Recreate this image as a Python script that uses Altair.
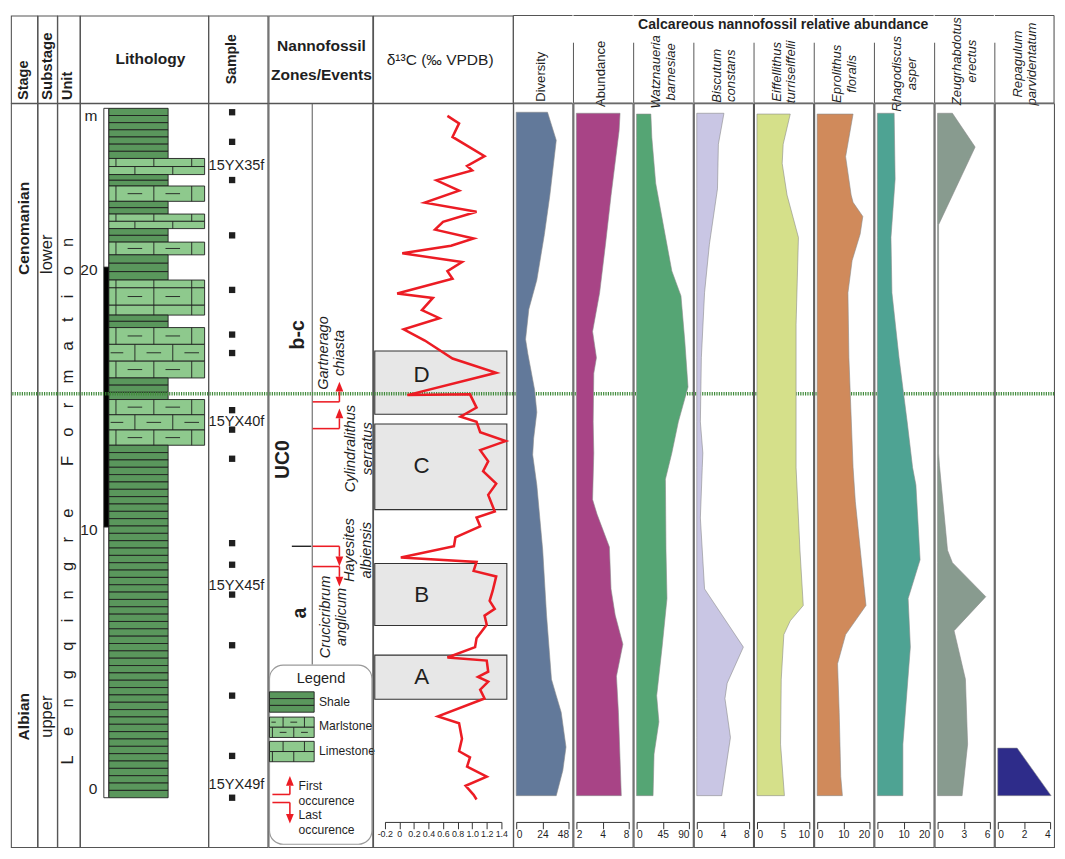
import altair as alt
import numpy as np
import pandas as pd

# =============================== DATA ===============================
stage_names = ["Cenomanian", "Albian"]
stage_label_depth = [21.6, 2.8]
substage_names = ["lower", "upper"]
substage_label_depth = [20.6, 2.8]
unit_name = "Lengqingre Formation"
unit_label_depth = 11.1
boundary_depth = [15.23]

lith_top = [26.22, 24.29, 23.67, 23.23, 22.64, 22.15, 21.59, 21.07, 20.58, 19.61, 19.31,
            18.64, 18.26, 17.78, 15.84, 15.01, 13.25]
lith_base = [24.29, 23.67, 23.23, 22.64, 22.15, 21.59, 21.07, 20.58, 19.61, 19.31, 18.64,
             18.26, 17.78, 15.84, 15.01, 13.25, -0.32]
lith_type = ["Shale", "Limestone", "Shale", "Marlstone", "Shale", "Limestone", "Shale",
             "Marlstone", "Shale", "Limestone", "Marlstone", "Limestone", "Shale",
             "Marlstone", "Shale", "Marlstone", "Shale"]

depth_ticks = [0, 10, 20]
depth_unit = "m"
depth_unit_depth = 25.93
scale_bar_top = [26.22, 20.1, 10.1]
scale_bar_base = [20.1, 10.1, -0.32]

sample_depth = [26.07, 24.93, 23.46, 21.33, 19.23, 17.51, 16.80, 14.60, 13.85, 12.73,
                9.48, 8.65, 7.50, 5.55, 3.61, 1.29, -0.32]
sample_labels = ["15YX35f", "15YX40f", "15YX45f", "15YX49f"]
sample_label_depth = [23.98, 14.14, 7.84, 0.18]

zone_labels = ["b-c", "UC0", "a"]
zone_label_depth = [17.5, 12.7, 6.79]
zone_tick_depth = [9.36]

event_names = ["Gartnerago chiasta", "Cylindralithus serratus", "Hayesites albiensis",
               "Crucicribrum anglicum"]
event_kind = ["FO", "FO", "LO", "LO"]
event_depth = [14.92, 13.89, 9.36, 8.58]
event_label_depth = [16.8, 13.12, 9.21, 6.64]

d13c_depth = [25.93, 25.64, 25.12, 24.38, 24.00, 23.83, 23.45, 23.05, 22.59, 22.24,
              21.85, 21.55, 21.21, 20.93, 20.64, 20.30, 19.95, 19.66, 19.09, 18.92,
              18.45, 18.14, 17.71, 17.28, 16.59, 16.04, 15.18, 15.21, 14.70, 14.35,
              14.15, 13.75, 13.41, 13.06, 12.63, 12.25, 11.77, 11.34, 10.70, 10.47,
              10.13, 9.70, 9.36, 8.93, 8.76, 8.41, 8.20, 7.63, 7.26, 6.95,
              6.69, 6.34, 5.82, 5.48, 5.08, 4.96, 4.53, 4.33, 4.15, 3.84,
              3.50, 2.81, 2.55, 1.95, 1.47, 1.23, 0.88, 0.49, 0.14, -0.21, -0.39]
d13c_value = [0.66, 0.82, 0.73, 1.17, 0.93, 1.00, 0.51, 0.82, 0.35, 1.06,
              0.60, 0.49, 1.02, 0.71, 0.04, 0.86, 0.66, 0.73, -0.03, 0.46,
              0.31, 0.55, 0.06, 0.35, 0.73, 1.33, 0.11, 0.97, 1.06, 0.84,
              1.06, 1.11, 1.46, 1.11, 1.22, 1.15, 1.33, 1.22, 1.31, 1.06,
              1.11, 0.77, 0.75, 0.02, 1.06, 1.02, 1.33, 1.28, 1.24, 1.31,
              1.17, 1.20, 1.06, 1.04, 0.66, 1.20, 1.22, 1.08, 1.22, 1.11,
              1.17, 0.53, 0.82, 0.86, 0.82, 0.97, 0.93, 1.20, 0.91, 1.02, 1.06]
d13c_ticks = [-0.2, 0, 0.2, 0.4, 0.6, 0.8, 1.0, 1.2, 1.4]

box_names = ["A", "B", "C", "D"]
box_top = [5.17, 8.70, 14.07, 16.88]
box_base = [3.47, 6.31, 10.77, 14.44]
box_label_depth = [4.33, 7.50, 12.43, 15.95]

abund_title = "Calcareous nannofossil relative abundance"
species_titles = ["Diversity", "Abundance", "Watznaueria barnesiae", "Biscutum constans",
                  "Eiffellithus turriseiffelii", "Eprolithus floralis", "Rhagodiscus asper",
                  "Zeugrhabdotus erectus", "Repagulum parvidentatum"]
species_domain = [[0, 48], [2, 8], [0, 90], [0, 8], [0, 10], [0, 20], [0, 20], [0, 6], [0, 4]]
species_ticks = [[0, 24, 48], [2, 4, 8], [0, 45, 90], [0, 4, 8], [0, 5, 10], [0, 10, 20],
                 [0, 10, 20], [0, 3, 6], [0, 2, 4]]

div_depth = [26.07, 24.99, 22.86, 21.36, 19.61, 18.49, 17.33, 16.77, 15.38, 14.52, 13.51,
             12.88, 11.72, 9.21, 6.71, 4.24, 3.61, 2.97, 1.63, 0.73, -0.24]
div_value = [28.7, 36.7, 30.8, 25.8, 18.9, 11.6, 8.6, 10.7, 16.9, 18.9, 16.0,
             15.1, 18.9, 24.3, 27.8, 32.3, 36.7, 41.2, 45.6, 42.7, 36.7]
abund_depth = [26.03, 25.36, 22.86, 20.99, 19.12, 17.63, 16.62, 16.02, 14.15, 12.95,
               11.16, 10.60, 9.33, 7.72, 6.71, 5.59, 4.36, 2.97, -0.24]
abund_value = [6.35, 6.19, 5.00, 4.32, 3.70, 3.07, 3.40, 3.17, 3.12, 3.17,
               3.07, 3.45, 4.79, 5.00, 5.58, 6.84, 5.77, 6.08, 6.56]
watz_depth = [26.0, 25.1, 23.34, 21.63, 19.96, 19.0, 17.25, 15.49, 14.15, 12.95, 11.94,
              9.21, 7.35, 5.48, 3.61, 2.6, 1.36, -0.24]
watz_value = [24.5, 26.2, 32.8, 46.7, 60.5, 76.2, 82.8, 88.3, 71.7, 60.5, 49.5,
              50.5, 52.2, 43.8, 34.5, 38.3, 30.0, 28.3]
bisc_depth = [26.03, 24.84, 23.12, 20.99, 19.12, 16.62, 14.15, 12.95, 12.39, 10.45, 7.72,
              5.48, 4.09, 3.50, 2.0, -0.24]
bisc_value = [4.15, 3.30, 3.16, 1.93, 1.19, 0.70, 0.55, 0.93, 0.84, 0.55, 1.19,
              7.11, 4.64, 4.30, 5.14, 3.81]
eiff_depth = [26.0, 24.84, 24.1, 22.88, 21.25, 17.89, 12.39, 9.21, 7.08, 6.49, 5.96,
              4.24, 1.74, -0.24]
eiff_value = [6.35, 5.0, 4.81, 5.74, 7.91, 7.46, 7.46, 8.2, 8.83, 6.35, 5.13,
              4.63, 4.5, 5.24]
epro_depth = [26.0, 24.36, 22.88, 22.6, 22.06, 21.38, 20.36, 19.12, 16.62, 12.39, 11.08,
              7.08, 5.96, 4.84, 2.97, 0.5, -0.24]
epro_value = [13.7, 10.85, 12.96, 13.7, 17.41, 16.41, 13.33, 11.74, 12.11, 13.7, 14.56,
              18.63, 10.85, 7.78, 8.41, 9.0, 9.63]
rhag_depth = [26.03, 23.49, 21.25, 19.12, 16.62, 14.15, 12.39, 11.72, 8.84, 7.35, 5.48,
              1.74, -0.24]
rhag_value = [6.41, 6.78, 5.19, 5.56, 8.26, 11.37, 13.44, 14.7, 16.3, 11.74, 12.59,
              9.74, 9.74]
zeug_depth = [26.03, 24.73, 21.74, 12.95, 12.47, 9.21, 8.73, 7.42, 6.11, 4.24, 1.74, -0.24]
zeug_value = [1.70, 4.30, 0.12, 0.12, 0.22, 1.14, 1.70, 5.52, 1.89, 3.19, 3.44, 2.81]
repa_depth = [1.59, -0.24]
repa_value = [1.48, 4.07]

species_depth = [div_depth, abund_depth, watz_depth, bisc_depth, eiff_depth, epro_depth,
                 rhag_depth, zeug_depth, repa_depth]
species_value = [div_value, abund_value, watz_value, bisc_value, eiff_value, epro_value,
                 rhag_value, zeug_value, repa_value]

legend_items = ["Shale", "Marlstone", "Limestone"]
legend_arrow_text = ["First\noccurence", "Last\noccurence"]

# =============================== STYLE / LAYOUT ===============================
S = 0.984                      # overall scale so the figure fits the window


def px(v):
    return round(v * S, 2)


FONT = "Liberation Sans, Arial, Helvetica, sans-serif"
INK = "#1f1f1f"
BORDER = "#555555"
RED = "#ec1c24"
GREEN = "#3f8a3a"
BOX_FILL = "#e7e7e7"
LITH_FILL = {"Shale": "#5a975c", "Marlstone": "#8ec98d", "Limestone": "#8ec98d"}
SPECIES_COLOR = ["#62799a", "#a84486", "#55a574", "#c9c6e4", "#d5e08a", "#d08a5b",
                 "#4ea393", "#889b8f", "#2e2c8a"]
HEADER_Y = [63, 60, 58, 62, 58, 60, 60, 47, 50]
EVENT_LABEL_X = [57, 85, 84, 59]

PX_PER_M = 26.75
ZERO_Y = 796.5
HEAD_H = 90
BODY_BOTTOM = 856
LEGEND_TOP = 668
AXIS_Y = 830
Y_TOP = (ZERO_Y - HEAD_H) / PX_PER_M
Y_BOT = (ZERO_Y - BODY_BOTTOM) / PX_PER_M
H_BODY = BODY_BOTTOM - HEAD_H
H_NANNO = LEGEND_TOP - HEAD_H
H_LEGEND = BODY_BOTTOM - LEGEND_TOP
W = dict(stage=27, substage=20, unit=23, lith=132, sample=61, nanno=107, d13c=144, sp=61)

LITH_X0 = 29.5
LITH_RIGHT = {"Shale": 90.7, "Marlstone": 128.3, "Limestone": 128.3}
ROW_H = {"Shale": 0.285, "Marlstone": 0.62, "Limestone": 0.31}

ARROW_LINE_M = 10.6 / PX_PER_M
HEAD_PX = 10
UP = "M-0.8,1L0,-1L0.8,1Z"
DOWN = "M-0.8,-1L0,1L0.8,-1Z"

YD = alt.Scale(domain=[Y_BOT, Y_TOP], nice=False, zero=False)
NOSTROKE = alt.ViewBackground(stroke="transparent")


def depth_y(field="depth", scale=None):
    return alt.Y(f"{field}:Q", scale=scale if scale is not None else YD, axis=None)


def px_scale(n):
    return alt.Scale(domain=[0, n], range=[0, px(n)], nice=False, zero=False)


def boundary_rule():
    return alt.Chart(pd.DataFrame({"depth": boundary_depth})).mark_rule(
        color=GREEN, strokeWidth=px(3.6), strokeDash=[1.2, 1.2]
    ).encode(y=depth_y("depth"))


def litho_pattern(beds, x0, x_right, brick, offsets, dash):
    rows, joints, dashes = [], [], []
    for top, base, kind, n in beds:
        step = (base - top) / n
        xr = x_right[kind]
        for i in range(n):
            t = top + i * step
            b = t + step
            rows.append({"kind": kind, "x": x0, "x2": xr, "top": t, "base": b})
            if kind == "Shale":
                continue
            off = offsets[i % 2]
            k0 = int(np.floor((x0 - off) / brick)) - 1
            for k in range(k0, k0 + 12):
                j = off + k * brick
                if x0 + 1 < j < xr - 1:
                    joints.append({"x": j, "top": t, "base": b})
                if kind == "Marlstone":
                    c = j + brick / 2
                    a, z = max(c - dash / 2, x0 + 2), min(c + dash / 2, xr - 2)
                    if z - a > 1.5:
                        dashes.append({"x": a, "x2": z, "mid": (t + b) / 2})
    return pd.DataFrame(rows), pd.DataFrame(joints), pd.DataFrame(dashes)


def pattern_layers(beds, x0, x_right, brick, offsets, dash, xs, yfun):
    rows, joints, dashes = litho_pattern(beds, x0, x_right, brick, offsets, dash)
    fill = alt.Fill("kind:N", scale=alt.Scale(domain=list(LITH_FILL), range=list(LITH_FILL.values())),
                    legend=None)
    r = alt.Chart(rows).mark_rect(stroke=INK, strokeWidth=0.9).encode(
        x=alt.X("x:Q", scale=xs, axis=None), x2="x2:Q", y=yfun("top"), y2="base:Q", fill=fill)
    j = alt.Chart(joints).mark_rule(color=INK, strokeWidth=0.9).encode(
        x=alt.X("x:Q", scale=xs, axis=None), y=yfun("top"), y2="base:Q")
    d = alt.Chart(dashes).mark_rule(color=INK, strokeWidth=0.9).encode(
        x=alt.X("x:Q", scale=xs, axis=None), x2="x2:Q", y=yfun("mid"))
    return [r, j, d]


def rotated_labels(names, depths, x, size, weight="normal", style="normal"):
    df = pd.DataFrame({"name": names, "depth": depths})
    return alt.Chart(df).mark_text(
        angle=270, align="center", baseline="middle", font=FONT, fontSize=px(size),
        fontWeight=weight, fontStyle=style, color=INK
    ).encode(x=alt.value(px(x)), y=depth_y(), text="name:N")


def spaced(s):
    gap = "\u2003\u2006"
    return "\u2003\u2003\u2004\u2005".join(gap.join(w) for w in s.split())


# =============================== BODY ===============================
stage_b = alt.layer(
    boundary_rule(), rotated_labels(stage_names, stage_label_depth, 13.5, 16, "bold")
).properties(width=px(W["stage"]), height=px(H_BODY))

substage_b = alt.layer(
    boundary_rule(), rotated_labels(substage_names, substage_label_depth, 10, 17)
).properties(width=px(W["substage"]), height=px(H_BODY))

unit_b = alt.layer(
    boundary_rule(), rotated_labels([spaced(unit_name)], [unit_label_depth], 11.5, 17)
).properties(width=px(W["unit"]), height=px(H_BODY))

# --- lithology
XL = px_scale(W["lith"])
beds = [(t, b, k, max(1, int(round((t - b) / ROW_H[k])))) for t, b, k in
        zip(lith_top, lith_base, lith_type)]
lith_layers = pattern_layers(beds, LITH_X0, LITH_RIGHT, 39, [37, 56.5], 15, XL,
                             lambda f: depth_y(f))
bar_df = pd.DataFrame({"top": scale_bar_top, "base": scale_bar_base,
                       "fill": ["white", "black", "white"]})
bar = alt.Chart(bar_df).mark_rect(stroke=INK, strokeWidth=0.9).encode(
    x=alt.value(px(24.5)), x2=alt.value(px(29.5)), y=depth_y("top"), y2="base:Q",
    fill=alt.Fill("fill:N", scale=None))
tick_df = pd.DataFrame({"label": [str(t) for t in depth_ticks] + [depth_unit],
                        "depth": depth_ticks + [depth_unit_depth]})
tick_text = alt.Chart(tick_df).mark_text(
    align="right", baseline="middle", font=FONT, fontSize=px(16), color=INK
).encode(x=alt.value(px(18)), y=depth_y(), text="label:N")
lith_b = alt.layer(*lith_layers, bar, tick_text, boundary_rule()).properties(
    width=px(W["lith"]), height=px(H_BODY))

# --- samples
samp = alt.Chart(pd.DataFrame({"depth": sample_depth})).mark_square(
    color=INK, size=px(6.5) ** 2, opacity=1).encode(x=alt.value(px(24.5)), y=depth_y())
samp_lab = alt.Chart(pd.DataFrame({"label": sample_labels, "depth": sample_label_depth})).mark_text(
    font=FONT, fontSize=px(15), align="center", baseline="middle", color=INK
).encode(x=alt.value(px(29)), y=depth_y(), text="label:N")
sample_b = alt.layer(boundary_rule(), samp, samp_lab).properties(
    width=px(W["sample"]), height=px(H_BODY))

# --- nannofossil zones / events + legend (one panel, two vertical scales)
XN = px_scale(W["nanno"])
sep = alt.Chart(pd.DataFrame({"x": [45]})).mark_rule(color=BORDER, strokeWidth=1).encode(
    x=alt.X("x:Q", scale=XN, axis=None), y=alt.value(0), y2=alt.value(px(H_NANNO)))
zdf = pd.DataFrame({"name": zone_labels, "depth": zone_label_depth, "x": [30, 15, 32]})
zones = alt.Chart(zdf).mark_text(
    angle=270, align="center", baseline="middle", font=FONT, fontSize=px(20),
    fontWeight="bold", color=INK
).encode(x=alt.X("x:Q", scale=XN, axis=None), y=depth_y(), text="name:N")
ztick = alt.Chart(pd.DataFrame({"depth": zone_tick_depth})).mark_rule(
    color=INK, strokeWidth=1.4).encode(x=alt.value(px(24)), x2=alt.value(px(44)), y=depth_y())
sign = np.array([1 if k == "FO" else -1 for k in event_kind])
ev = pd.DataFrame({"name": [n.replace(" ", "\n") for n in event_names], "kind": event_kind,
                   "depth": event_depth, "ldepth": event_label_depth, "lx": EVENT_LABEL_X})
ev["end"] = ev["depth"] + sign * ARROW_LINE_M
ev["head"] = ev["depth"] + sign * (ARROW_LINE_M + HEAD_PX / 2 / PX_PER_M)
ev_h = alt.Chart(ev).mark_rule(color=RED, strokeWidth=px(1.6)).encode(
    x=alt.value(px(45.5)), x2=alt.value(px(73)), y=depth_y("depth"))
ev_v = alt.Chart(ev).mark_rule(color=RED, strokeWidth=px(1.6)).encode(
    x=alt.value(px(73)), y=depth_y("depth"), y2="end:Q")
shape = alt.Shape("kind:N", scale=alt.Scale(domain=["FO", "LO"], range=[UP, DOWN]), legend=None)
ev_head = alt.Chart(ev).mark_point(filled=True, color=RED, opacity=1, strokeWidth=0,
                                    size=px(HEAD_PX) ** 2).encode(
    x=alt.value(px(73)), y=depth_y("head"), shape=shape)
ev_lab = alt.Chart(ev).mark_text(
    angle=270, align="center", baseline="middle", font=FONT, fontSize=px(15),
    fontStyle="italic", lineBreak="\n", lineHeight=px(17), color=INK
).encode(x=alt.X("lx:Q", scale=XN, axis=None), y=depth_y("ldepth"), text="name:N")

YL = alt.Scale(domain=[0, H_LEGEND], range=[px(H_NANNO), px(H_BODY)], nice=False, zero=False)


def ly(f):
    return alt.Y(f"{f}:Q", scale=YL, axis=None)


one = pd.DataFrame({"k": [0]})
leg_box = alt.Chart(one).mark_rect(fill="white", stroke="#9a9a9a", strokeWidth=1.2,
                                   cornerRadius=px(14)).encode(
    x=alt.value(px(1)), x2=alt.value(px(106.5)), y=alt.value(px(H_NANNO + 0.5)),
    y2=alt.value(px(H_NANNO + 185)))
leg_title = alt.Chart(pd.DataFrame({"t": ["Legend"]})).mark_text(
    font=FONT, fontSize=px(15), color=INK, align="center", baseline="middle").encode(
    x=alt.value(px(54)), y=alt.value(px(H_NANNO + 15)), text="t:N")
leg_beds = [(28, 49, "Shale", 3), (54, 75, "Marlstone", 2), (79, 100, "Limestone", 2)]
leg_pattern = pattern_layers(leg_beds, 1, {"Shale": 47, "Marlstone": 47, "Limestone": 47},
                             22, [15, 26], 7, XN, ly)
leg_lab = alt.Chart(pd.DataFrame({"t": legend_items, "y": [38.7, 63.5, 89]})).mark_text(
    font=FONT, fontSize=px(12.5), color=INK, align="left", baseline="middle").encode(
    x=alt.value(px(52)), y=ly("y"), text="t:N")
arr = pd.DataFrame({"kind": ["FO", "LO"], "y": [133.7, 142], "end": [124.7, 153.7],
                    "head": [119.7, 158.7], "t": legend_arrow_text, "ty": [125, 155]})
arr_h = alt.Chart(arr).mark_rule(color=RED, strokeWidth=px(1.6)).encode(
    x=alt.value(px(4)), x2=alt.value(px(22)), y=ly("y"))
arr_v = alt.Chart(arr).mark_rule(color=RED, strokeWidth=px(1.6)).encode(
    x=alt.value(px(22)), y=ly("y"), y2="end:Q")
arr_head = alt.Chart(arr).mark_point(filled=True, color=RED, opacity=1, strokeWidth=0,
                                      size=px(HEAD_PX) ** 2).encode(
    x=alt.value(px(22)), y=ly("head"), shape=shape)
arr_lab = alt.Chart(arr).mark_text(
    font=FONT, fontSize=px(12.5), color=INK, align="left", baseline="middle",
    lineBreak="\n", lineHeight=px(15.5)).encode(x=alt.value(px(31)), y=ly("ty"), text="t:N")

nanno_b = alt.layer(sep, boundary_rule(), zones, ztick, ev_h, ev_v, ev_head, ev_lab,
                    leg_box, leg_title, *leg_pattern, leg_lab, arr_h, arr_v, arr_head, arr_lab
                    ).resolve_scale(y="independent").properties(
    width=px(W["nanno"]), height=px(H_BODY))

# --- d13C
XC = alt.Scale(domain=[-0.2, 1.4], range=[px(12), px(132)], nice=False, zero=False)
boxes = alt.Chart(pd.DataFrame({"top": box_top, "base": box_base})).mark_rect(
    fill=BOX_FILL, stroke="#333333", strokeWidth=1.1).encode(
    x=alt.value(px(1.7)), x2=alt.value(px(137.7)), y=depth_y("top"), y2="base:Q")
box_lab = alt.Chart(pd.DataFrame({"t": box_names, "depth": box_label_depth})).mark_text(
    font=FONT, fontSize=px(23), color=INK, align="center", baseline="middle").encode(
    x=alt.value(px(50)), y=depth_y(), text="t:N")
cdf = pd.DataFrame({"idx": range(len(d13c_depth)), "depth": d13c_depth, "value": d13c_value})
curve = alt.Chart(cdf).mark_line(color=RED, strokeWidth=px(2.6)).encode(
    x=alt.X("value:Q", scale=XC, axis=alt.Axis(
        values=d13c_ticks, title=None, offset=px(AXIS_Y - BODY_BOTTOM), labelOverlap=False,
        labelFlush=False, labelFontSize=9,
        labelExpr="datum.value == 0 ? '0' : (datum.value < 0 ? '-' : '') + format(abs(datum.value), '.1f')")),
    y=depth_y(), order=alt.Order("idx:Q"))
d13c_b = alt.layer(boxes, box_lab, boundary_rule(), curve).properties(
    width=px(W["d13c"]), height=px(H_BODY))

# --- abundance panels
species_b = []
for i in range(len(species_titles)):
    lo, hi = species_domain[i]
    sc = alt.Scale(domain=[lo, hi], range=[px(3), px(W["sp"] - 4)], nice=False, zero=False)
    if i == 1:
        sc = alt.Scale(type="log", base=2, domain=[lo, hi], range=[px(3), px(W["sp"] - 4)],
                       nice=False)
    df = pd.DataFrame({"depth": species_depth[i], "value": species_value[i]})
    area = alt.Chart(df).mark_area(
        orient="horizontal", fill=SPECIES_COLOR[i], stroke="#8a8a8a", strokeWidth=0.6,
        opacity=1, interpolate="linear").encode(
        x=alt.X("value:Q", scale=sc, axis=alt.Axis(
            values=species_ticks[i], title=None, offset=px(AXIS_Y - BODY_BOTTOM),
            labelFlush=True, labelOverlap=False, format="d")),
        x2=alt.datum(lo), y=depth_y())
    species_b.append(alt.layer(boundary_rule(), area).properties(
        width=px(W["sp"]), height=px(H_BODY)))

# =============================== HEADER ===============================
one_row = pd.DataFrame({"k": [0]})


def header(text, width, x, y, size, angle=0, align="center", weight="bold", lh=None,
           style="normal"):
    kw = dict(font=FONT, fontSize=px(size), fontWeight=weight, fontStyle=style, color=INK,
              align=align, baseline="middle", lineBreak="\n")
    if angle:
        kw["angle"] = angle
    if lh:
        kw["lineHeight"] = px(lh)
    t = alt.Chart(pd.DataFrame({"t": [text]})).mark_text(**kw).encode(
        x=alt.value(px(x)), y=alt.value(px(y)), text="t:N")
    return t.properties(width=px(width), height=px(HEAD_H))


stage_h = header("Stage", W["stage"], 13.5, 87, 15, angle=270, align="left")
substage_h = header("Substage", W["substage"], 10, 87, 15.5, angle=270, align="left")
unit_h = header("Unit", W["unit"], 11.5, 87, 15, angle=270, align="left")
lith_h = header("Lithology", W["lith"], 72.5, 45, 16)
sample_h = header("Sample", W["sample"], 24.5, 45, 14.5, angle=270)
nanno_h = header("Nannofossil\nZones/Events", W["nanno"], 54.5, 31, 16, lh=30)
d13c_h = header("\u03b4\u00b9\u00b3C (\u2030 VPDB)", W["d13c"], 69, 45.5, 16, weight="normal")

species_h = []
n_sp = len(species_titles)
for i, title in enumerate(species_titles):
    wsp = W["sp"]
    layers = [
        alt.Chart(one_row).mark_rule(color=BORDER, strokeWidth=1.1).encode(
            x=alt.value(0), x2=alt.value(px(wsp)), y=alt.value(0)),
        alt.Chart(one_row).mark_rule(color=BORDER, strokeWidth=1.1).encode(
            x=alt.value(0), x2=alt.value(px(wsp)), y=alt.value(px(HEAD_H))),
        alt.Chart(one_row).mark_rule(color=BORDER, strokeWidth=1).encode(
            x=alt.value(0), y=alt.value(px(28) if i > 0 else 0), y2=alt.value(px(HEAD_H))),
    ]
    if i == n_sp - 1:
        layers.append(alt.Chart(one_row).mark_rule(color=BORDER, strokeWidth=1.1).encode(
            x=alt.value(px(wsp)), y=alt.value(0), y2=alt.value(px(HEAD_H))))
    italic = " " in title
    kw = dict(angle=270, align="center", baseline="middle", font=FONT, fontSize=px(13.5),
              color=INK, lineBreak="\n", lineHeight=px(15), dy=px(-7 if italic else -2))
    if italic:
        kw["fontStyle"] = "italic"
    layers.append(alt.Chart(pd.DataFrame({"t": [title.replace(" ", "\n")]})).mark_text(**kw).encode(
        x=alt.value(px(wsp / 2)), y=alt.value(px(HEADER_Y[i])), text="t:N"))
    if i == 0:
        layers.append(alt.Chart(pd.DataFrame({"t": [abund_title]})).mark_text(
            font=FONT, fontWeight="bold", fontSize=px(14.5), color=INK, align="center",
            baseline="middle").encode(x=alt.value(px(278)), y=alt.value(px(10)), text="t:N"))
    species_h.append(alt.layer(*layers).properties(width=px(wsp), height=px(HEAD_H),
                                                   view=NOSTROKE))

# =============================== ASSEMBLY ===============================
headers = [stage_h, substage_h, unit_h, lith_h, sample_h, nanno_h, d13c_h] + species_h
bodies = [stage_b, substage_b, unit_b, lith_b, sample_b, nanno_b, d13c_b] + species_b

chart = alt.concat(*headers, *bodies, columns=len(headers), spacing=0, bounds="flush",
                   align="each").properties(
    padding=0, background="white"
).configure_view(stroke=BORDER, strokeWidth=1.1).configure_axis(
    grid=False, labelFont=FONT, labelFontSize=px(10.5), labelColor=INK, domainColor="#333333",
    tickColor="#333333", tickSize=px(7), labelPadding=1, domainWidth=1, tickWidth=1
)

chart.save("out.html", embed_options={"renderer": "svg", "actions": False})
